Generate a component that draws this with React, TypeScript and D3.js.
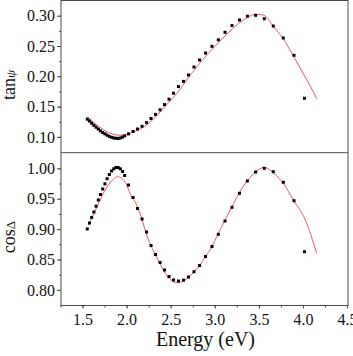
import React, { useRef, useEffect } from "react";
import * as d3 from "d3";

// measured energies (eV), shared by both panels
const energies = [
  1.554, 1.579, 1.604, 1.629, 1.654, 1.679, 1.704, 1.729, 1.754, 1.779, 1.804,
  1.829, 1.854, 1.879, 1.904, 1.929, 1.954, 1.978, 2.022, 2.073, 2.124, 2.175,
  2.226, 2.277, 2.328, 2.379, 2.43, 2.481, 2.532, 2.588, 2.645, 2.702, 2.764,
  2.827, 2.895, 2.968, 3.04, 3.116, 3.195, 3.28, 3.369, 3.463, 3.561, 3.663,
  3.777, 3.898, 4.017,
];

const tanPsi = [
  0.1292, 0.1262, 0.1226, 0.1191, 0.116, 0.1129, 0.1099, 0.1071, 0.105, 0.1028,
  0.1008, 0.0993, 0.0983, 0.0977, 0.0975, 0.0982, 0.0997, 0.1017, 0.105, 0.1089,
  0.113, 0.1175, 0.1236, 0.1304, 0.1371, 0.1447, 0.1533, 0.1622, 0.1721, 0.183,
  0.1916, 0.2021, 0.2153, 0.2269, 0.2384, 0.2495, 0.2602, 0.2726, 0.2838,
  0.2929, 0.2992, 0.3007, 0.295, 0.283, 0.2632, 0.2347, 0.1637,
];

const cosDelta = [
  0.9002, 0.91, 0.9191, 0.9281, 0.9377, 0.9479, 0.9569, 0.966, 0.9745, 0.9829,
  0.9898, 0.9956, 0.9992, 1.0012, 1.0013, 0.9992, 0.9947, 0.9882, 0.9725, 0.952,
  0.9339, 0.9166, 0.8952, 0.873, 0.8582, 0.8451, 0.8327, 0.822, 0.8163, 0.8146,
  0.816, 0.8212, 0.8299, 0.8401, 0.8549, 0.8714, 0.8914, 0.9133, 0.9359,
  0.9589, 0.9791, 0.9939, 1.0, 0.9944, 0.977, 0.9467, 0.8628,
];

// model fit curves
const fitTanE = [
  1.551, 1.642, 1.732, 1.823, 1.914, 1.982, 2.05, 2.118, 2.209, 2.299, 2.39,
  2.492, 2.605, 2.696, 2.787, 2.878, 2.968, 3.059, 3.15, 3.24, 3.331, 3.399,
  3.467, 3.535, 3.58, 3.66, 3.773, 3.886, 3.999, 4.079, 4.158,
];
const fitTan = [
  0.1333, 0.1221, 0.1122, 0.1056, 0.1028, 0.1031, 0.1064, 0.1106, 0.118,
  0.1287, 0.1427, 0.1592, 0.1782, 0.1972, 0.2137, 0.2302, 0.2442, 0.2583,
  0.2715, 0.2838, 0.2937, 0.2995, 0.3023, 0.3015, 0.2987, 0.283, 0.2627,
  0.2351, 0.2054, 0.1848, 0.1625,
];

const fitCosE = [
  1.566, 1.622, 1.679, 1.736, 1.793, 1.849, 1.899, 1.944, 2.001, 2.039, 2.095,
  2.152, 2.228, 2.288, 2.356, 2.424, 2.492, 2.568, 2.643, 2.756, 2.832, 2.889,
  2.965, 3.04, 3.116, 3.192, 3.278, 3.369, 3.456, 3.561, 3.671, 3.777, 3.89,
  4.023, 4.155,
];
const fitCos = [
  0.9067, 0.9232, 0.9413, 0.9589, 0.9725, 0.9819, 0.9862, 0.9836, 0.9725,
  0.9589, 0.9451, 0.926, 0.8903, 0.8689, 0.8492, 0.8311, 0.8174, 0.8118,
  0.8146, 0.8283, 0.841, 0.8536, 0.8701, 0.8931, 0.915, 0.9359, 0.9599,
  0.9796, 0.9934, 1.0016, 0.9918, 0.9753, 0.9479, 0.9161, 0.8602,
];

const xTicks = [1.5, 2.0, 2.5, 3.0, 3.5, 4.0, 4.5];
const tanTicks = [0.1, 0.15, 0.2, 0.25, 0.3];
const cosTicks = [0.8, 0.85, 0.9, 0.95, 1.0];

const W = 353;
const H = 356;
const FONT = "Liberation Serif";
const FRAME = "#4a4a4a";

function drawChart(svgEl: SVGSVGElement) {
  const svg = d3.select(svgEl);
  svg.selectAll("*").remove();

  const left = 61;
  const right = 348;
  const top = 0.5;
  const mid = 152.7;
  const bottom = 305.5;

  const x = d3.scaleLinear().domain([1.2562, 4.5102]).range([left, right]);
  const yTan = d3.scaleLinear().domain([0.0739, 0.3251]).range([mid, top]);
  const yCos = d3.scaleLinear().domain([0.7743, 1.0257]).range([bottom, mid]);

  const panels = [
    { id: "p1", y: yTan, pts: tanPsi, fx: fitTanE, fy: fitTan, ticks: tanTicks, y0: top, y1: mid },
    { id: "p2", y: yCos, pts: cosDelta, fx: fitCosE, fy: fitCos, ticks: cosTicks, y0: mid, y1: bottom },
  ];

  panels.forEach((p) => {
    svg
      .append("clipPath")
      .attr("id", p.id)
      .append("rect")
      .attr("x", left)
      .attr("y", p.y0)
      .attr("width", right - left)
      .attr("height", p.y1 - p.y0);

    const g = svg.append("g").attr("clip-path", `url(#${p.id})`);

    const line = d3
      .line<number>()
      .x((d, i) => x(p.fx[i]))
      .y((d) => p.y(d))
      .curve(d3.curveMonotoneX);

    g.append("path")
      .attr("d", line(p.fy))
      .attr("fill", "none")
      .attr("stroke", "#ff5555")
      .attr("stroke-width", 1);

    g.selectAll("rect.pt")
      .data(p.pts)
      .enter()
      .append("rect")
      .attr("class", "pt")
      .attr("x", (d, i) => x(energies[i]) - 1.5)
      .attr("y", (d) => p.y(d) - 1.5)
      .attr("width", 3)
      .attr("height", 3)
      .attr("fill", "#000");

    // minor y ticks
    const minor: number[] = [];
    for (let v = p.ticks[0] - 0.025; v <= p.ticks[p.ticks.length - 1] + 0.026; v += 0.025) {
      const yy = p.y(v);
      if (yy > p.y0 + 1 && yy < p.y1 - 1) minor.push(v);
    }
    svg
      .append("g")
      .attr("transform", `translate(${left},0)`)
      .call(d3.axisLeft(p.y).tickValues(minor).tickSize(2).tickSizeOuter(0).tickFormat(() => ""))
      .call((a) => a.select(".domain").remove())
      .call((a) => a.selectAll("line").attr("stroke", FRAME));

    svg
      .append("g")
      .attr("transform", `translate(${left},0)`)
      .call(
        d3
          .axisLeft(p.y)
          .tickValues(p.ticks)
          .tickSize(4)
          .tickSizeOuter(0)
          .tickPadding(2)
          .tickFormat(d3.format(".2f"))
      )
      .attr("font-family", FONT)
      .attr("font-size", 16)
      .call((a) => a.select(".domain").remove())
      .call((a) => a.selectAll("line").attr("stroke", FRAME))
      .call((a) => a.selectAll("text").style("font-family", FONT).attr("fill", "#111"));
  });

  // x axis
  const xMinor: number[] = [];
  for (let v = 1.25; v <= 4.5; v += 0.25) xMinor.push(v);
  svg
    .append("g")
    .attr("transform", `translate(0,${bottom})`)
    .call(d3.axisBottom(x).tickValues(xMinor).tickSize(2).tickSizeOuter(0).tickFormat(() => ""))
    .call((a) => a.select(".domain").remove())
    .call((a) => a.selectAll("line").attr("stroke", FRAME));

  svg
    .append("g")
    .attr("transform", `translate(0,${bottom})`)
    .call(
      d3
        .axisBottom(x)
        .tickValues(xTicks)
        .tickSize(3)
        .tickSizeOuter(0)
        .tickPadding(5)
        .tickFormat(d3.format(".1f"))
    )
    .attr("font-family", FONT)
    .attr("font-size", 16)
    .call((a) => a.select(".domain").remove())
    .call((a) => a.selectAll("line").attr("stroke", FRAME))
    .call((a) => a.selectAll("text").style("font-family", FONT).attr("fill", "#111"));

  // frames
  svg
    .append("rect")
    .attr("x", left)
    .attr("y", top)
    .attr("width", right - left)
    .attr("height", bottom - top)
    .attr("fill", "none")
    .attr("stroke", FRAME)
    .attr("stroke-width", 1);
  svg
    .append("line")
    .attr("x1", left)
    .attr("x2", right)
    .attr("y1", mid)
    .attr("y2", mid)
    .attr("stroke", FRAME)
    .attr("stroke-width", 1);

  // axis titles
  svg
    .append("text")
    .attr("x", (left + right) / 2 + 1)
    .attr("y", 346)
    .attr("text-anchor", "middle")
    .style("font-family", FONT)
    .attr("font-size", 20)
    .attr("fill", "#111")
    .text("Energy (eV)");

  const tanLabel = svg
    .append("text")
    .attr("transform", "translate(15,85) rotate(-90)")
    .attr("text-anchor", "middle")
    .style("font-family", FONT)
    .attr("font-size", 18)
    .attr("fill", "#111");
  tanLabel.append("tspan").text("tan");
  tanLabel.append("tspan").attr("font-size", 13).attr("font-style", "italic").text("ψ");

  const cosLabel = svg
    .append("text")
    .attr("transform", "translate(15,237) rotate(-90)")
    .attr("text-anchor", "middle")
    .style("font-family", FONT)
    .attr("font-size", 18)
    .attr("fill", "#111");
  cosLabel.append("tspan").text("cos");
  cosLabel.append("tspan").attr("font-size", 13).text("Δ");
}

const App: React.FunctionComponent = function () {
  const ref = useRef<SVGSVGElement>(null);

  useEffect(() => {
    if (ref.current == null) {
      return;
    }
    drawChart(ref.current);
  }, []);

  return (
    <svg
      ref={ref}
      width={W}
      height={H}
      style={{ position: "absolute", left: 0, top: 0, background: "#fff" }}
    />
  );
};

export default App;
